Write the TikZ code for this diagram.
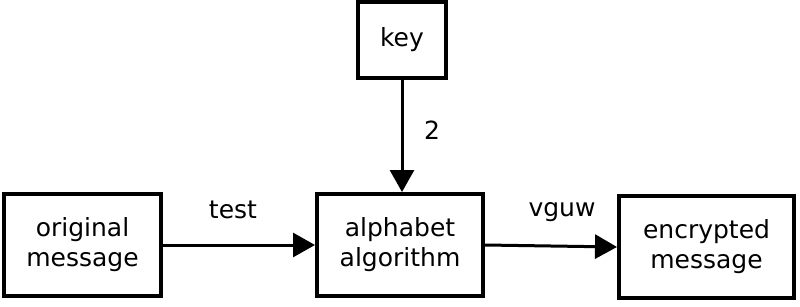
\documentclass[tikz,border=0pt]{standalone}
\usepackage{fontspec}
\setmainfont{DejaVu Sans}
\usetikzlibrary{arrows.meta}
\begin{document}
\begin{tikzpicture}[x=1pt,y=1pt,
  box/.style={draw=black,line width=4pt,fill=white,inner sep=0pt,align=center,
    font=\fontsize{25}{30}\selectfont},
  conn/.style={line width=3pt,-{Triangle[length=22pt,width=24pt]}},
  lbl/.style={font=\fontsize{25}{30}\selectfont,inner sep=0pt}]
\useasboundingbox (0,0) rectangle (800,306);
\node[box,minimum width=88pt,minimum height=76pt] (key) at (402,266) {key};
\node[box,minimum width=157pt,minimum height=102pt] (orig) at (82.5,61) {original\\message};
\node[box,minimum width=166pt,minimum height=102pt] (alg) at (400,61) {alphabet\\algorithm};
\node[box,minimum width=175pt,minimum height=102pt] (enc) at (706.5,59) {encrypted\\message};
\draw[conn] (key.south) -- (key.south |- alg.north);
\draw[conn] (orig.east) -- (alg.west);
\draw[conn] (alg.east) -- (enc.west);
\node[lbl] (l2) at (432,176) {2};
\node[lbl] (ltest) at (233,96) {test};
\node[lbl] (lvguw) at (562,94) {vguw};
\end{tikzpicture}
\end{document}
